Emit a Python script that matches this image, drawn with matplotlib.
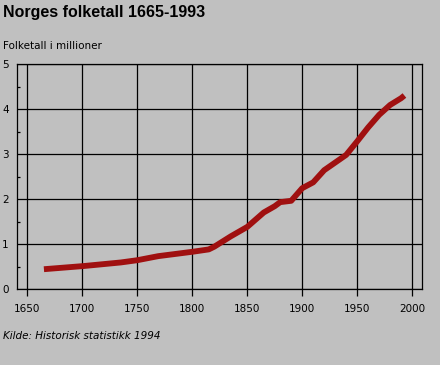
import matplotlib
matplotlib.use("Agg")
import matplotlib.pyplot as plt
from matplotlib.ticker import MultipleLocator

years = [1665, 1701, 1735, 1750, 1769, 1801, 1815, 1820, 1835, 1850, 1865, 1875, 1880, 1890, 1900, 1910, 1920, 1930, 1940, 1950, 1960, 1970, 1980, 1990, 1993]
pop = [0.44, 0.51, 0.59, 0.64, 0.73, 0.83, 0.88, 0.94, 1.17, 1.38, 1.70, 1.84, 1.93, 1.96, 2.24, 2.37, 2.64, 2.81, 2.98, 3.28, 3.59, 3.87, 4.09, 4.24, 4.30]
xticks = [1650, 1700, 1750, 1800, 1850, 1900, 1950, 2000]
yticks = [0, 1, 2, 3, 4, 5]

bg = "#c0c0c0"
fig = plt.figure(figsize=(4.4, 3.65), dpi=100, facecolor=bg)
ax = fig.add_axes([17/440, 76/365, 405/440, 225/365], facecolor=bg)

ax.plot(years, pop, color="#a01010", lw=4.2, solid_capstyle="butt", zorder=3)

ax.set_xlim(1640.5, 2009)
ax.set_ylim(0, 5)
ax.set_xticks(xticks)
ax.set_yticks(yticks)
ax.yaxis.set_minor_locator(MultipleLocator(0.5))
ax.grid(True, which="major", color="black", lw=0.9)
ax.tick_params(axis="x", direction="out", length=5, width=0.9, color="black", labelsize=7.5, pad=6)
ax.tick_params(axis="y", which="major", length=0, labelsize=7.5, pad=6)
ax.tick_params(axis="y", which="minor", direction="in", length=2, width=0.9)
for s in ax.spines.values():
    s.set_color("black")
    s.set_linewidth(0.9)

fig.text(3/440, 1 - 17/365, "Norges folketall 1665-1993", family="Liberation Sans", weight="bold", fontsize=11.5, va="baseline", ha="left")
fig.text(3/440, 1 - 49/365, "Folketall i millioner", fontsize=7.5, va="baseline", ha="left")
fig.text(3/440, 1 - 339/365, "Kilde: Historisk statistikk 1994", fontsize=7.5, style="italic", va="baseline", ha="left")

fig.savefig("out.png", dpi=100, facecolor=bg)
